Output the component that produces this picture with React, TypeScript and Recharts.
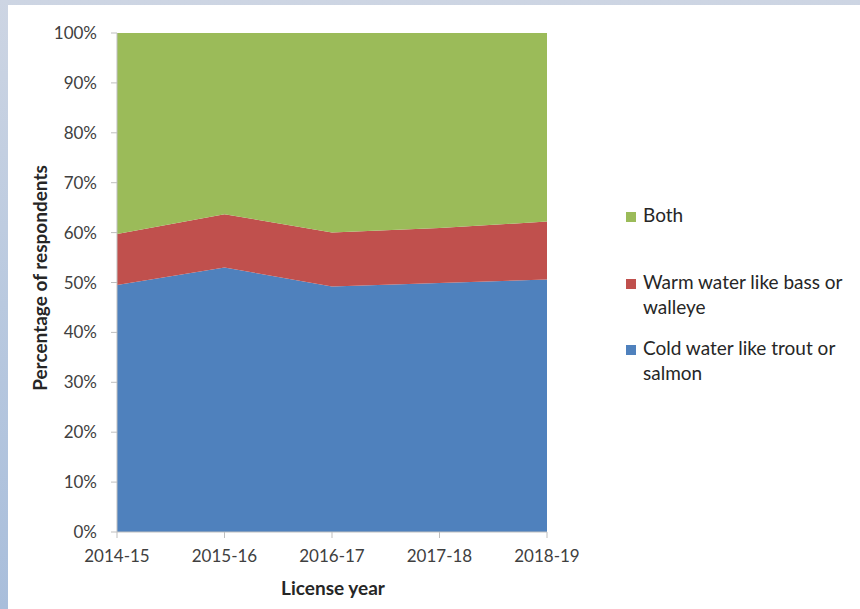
import { AreaChart, Area, XAxis, YAxis, Label } from "recharts";

const years = ["2014-15", "2015-16", "2016-17", "2017-18", "2018-19"];
const coldWater = [49.5, 53.0, 49.2, 49.9, 50.6];
const warmWater = [10.2, 10.7, 10.8, 11.0, 11.6];
const bothTypes = [40.3, 36.3, 40.0, 39.1, 37.8];
const percentTicks = [0, 10, 20, 30, 40, 50, 60, 70, 80, 90, 100];

const data = years.map((year, i) => ({
  year,
  cold: coldWater[i],
  warm: warmWater[i],
  both: bothTypes[i],
}));

// legend order, top to bottom
const legendItems = [
  { key: "both", color: "#9bbb59", lines: ["Both"], gap: 0 },
  { key: "warm", color: "#c0504d", lines: ["Warm water like bass or", "walleye"], gap: 42 },
  { key: "cold", color: "#4f81bd", lines: ["Cold water like trout or", "salmon"], gap: 16 },
];

const FONT = "Lato, 'Open Sans', sans-serif";
const AXIS_GREY = "#bfbfbf";
const TEXT = "#404040";

function LegendBox() {
  return (
    <div
      style={{
        position: "absolute",
        left: 626,
        top: 202,
        width: 232,
        fontFamily: FONT,
        fontSize: 19,
        color: "#262626",
      }}
    >
      {legendItems.map((item) => (
        <div
          key={item.key}
          style={{ display: "flex", alignItems: "flex-start", marginTop: item.gap }}
        >
          <div
            style={{
              width: 10,
              height: 10,
              background: item.color,
              marginTop: 10,
              marginRight: 7,
              flexShrink: 0,
            }}
          />
          <div style={{ lineHeight: "25px", whiteSpace: "nowrap" }}>
            {item.lines.map((l) => (
              <div key={l}>{l}</div>
            ))}
          </div>
        </div>
      ))}
    </div>
  );
}

export default function App() {
  return (
    <div
      style={{
        position: "absolute",
        left: 0,
        top: 0,
        width: 860,
        height: 609,
        background: "linear-gradient(180deg, #cdd5e3 0%, #b9c9df 50%, #a9bedb 100%)",
        overflow: "hidden",
      }}
    >
      <div
        style={{
          position: "absolute",
          left: 8,
          top: 5,
          width: 852,
          height: 604,
          background: "#ffffff",
        }}
      />
      <div style={{ position: "absolute", left: 0, top: 0 }}>
        <AreaChart
          width={860}
          height={609}
          data={data}
          margin={{ top: 33, right: 313, bottom: 47, left: 57 }}
        >
          <XAxis
            dataKey="year"
            height={30}
            interval={0}
            stroke={AXIS_GREY}
            tickSize={6}
            tickMargin={12}
            tick={{ fill: TEXT, fontSize: 17, fontFamily: FONT }}
          >
            <Label
              content={() => (
                <text
                  x={333}
                  y={595}
                  textAnchor="middle"
                  fill="#262626"
                  fontFamily={FONT}
                  fontSize={19}
                  fontWeight="bold"
                >
                  License year
                </text>
              )}
            />
          </XAxis>
          <YAxis
            width={60}
            domain={[0, 100]}
            ticks={percentTicks}
            tickFormatter={(v) => `${v}%`}
            stroke={AXIS_GREY}
            tickSize={6}
            tickMargin={14}
            tick={{ fill: TEXT, fontSize: 17, fontFamily: FONT }}
          >
            <Label
              content={() => (
                <text
                  x={39}
                  y={278}
                  transform="rotate(-90 39 278)"
                  textAnchor="middle"
                  dominantBaseline="central"
                  fill="#262626"
                  fontFamily={FONT}
                  fontSize={19}
                  fontWeight="bold"
                >
                  Percentage of respondents
                </text>
              )}
            />
          </YAxis>
          <Area
            type="linear"
            dataKey="cold"
            name="Cold water like trout or salmon"
            stackId="a"
            stroke="#4f81bd"
            strokeWidth={0}
            fill="#4f81bd"
            fillOpacity={1}
            isAnimationActive={false}
          />
          <Area
            type="linear"
            dataKey="warm"
            name="Warm water like bass or walleye"
            stackId="a"
            stroke="#c0504d"
            strokeWidth={0}
            fill="#c0504d"
            fillOpacity={1}
            isAnimationActive={false}
          />
          <Area
            type="linear"
            dataKey="both"
            name="Both"
            stackId="a"
            stroke="#9bbb59"
            strokeWidth={0}
            fill="#9bbb59"
            fillOpacity={1}
            isAnimationActive={false}
          />
        </AreaChart>
      </div>
      <LegendBox />
    </div>
  );
}
